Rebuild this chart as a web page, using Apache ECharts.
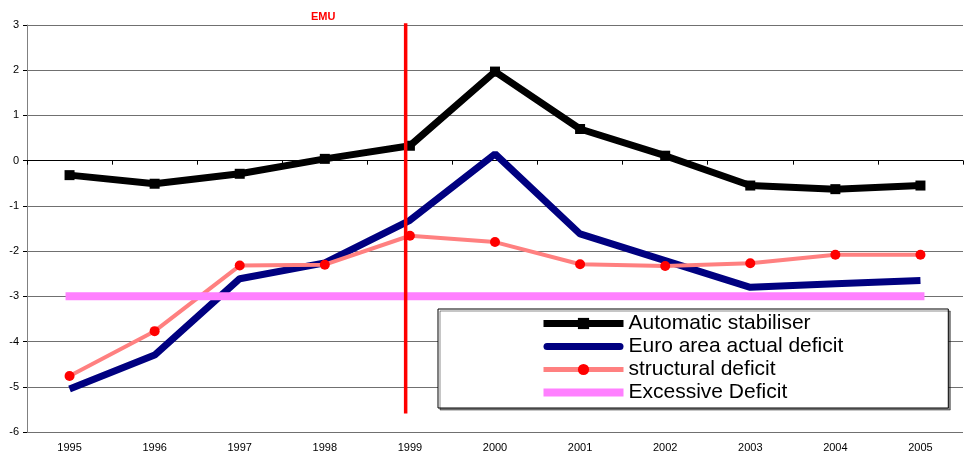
<!DOCTYPE html>
<html>
<head>
<meta charset="utf-8">
<script src="https://cdn.jsdelivr.net/npm/echarts@6/dist/echarts.min.js"></script>
<style>
html, body { margin: 0; padding: 0; background: #fff; }
#chart { width: 965px; height: 460px; }
</style>
</head>
<body>
<div id="chart"></div>
<script>
var years = ['1995', '1996', '1997', '1998', '1999', '2000', '2001', '2002', '2003', '2004', '2005'];
var automaticStabiliser = [-0.32, -0.51, -0.29, 0.04, 0.33, 1.97, 0.70, 0.11, -0.55, -0.63, -0.55];
var euroAreaDeficit = [-5.05, -4.30, -2.61, -2.26, -1.32, 0.15, -1.62, -2.21, -2.80, -2.72, -2.65];
var structuralDeficit = [-4.76, -3.77, -2.32, -2.30, -1.66, -1.80, -2.29, -2.33, -2.27, -2.08, -2.08];
var excessiveDeficit = [-3, -3, -3, -3, -3, -3, -3, -3, -3, -3, -3];
// EMU marker: position between category centres (index units) and its vertical extent
var emuLine = [[3.95, 3.13], [3.95, -5.59]];
var yTicks = { min: -6, max: 3, step: 1 };

var chart = echarts.init(document.getElementById('chart'));
var font = 'Liberation Sans, Arial, sans-serif';

// legend swatches for the plain lines (no marker)
var roundBar = 'path://M3.5,0 H76.5 A3.5,3.5 0 0 1 76.5,7 H3.5 A3.5,3.5 0 0 1 3.5,0 Z';
var flatBar = 'path://M0,0 H80 V8 H0 Z';

var option = {
    animation: false,
    backgroundColor: '#fff',
    title: {
        text: 'EMU',
        left: 306,
        top: 6,
        textStyle: { color: '#ff0000', fontSize: 11, fontWeight: 'bold', fontFamily: font }
    },
    grid: { left: 27, right: 2, top: 25, bottom: 28, containLabel: false },
    legend: {
        orient: 'vertical',
        left: 438,
        top: 309,
        padding: [4, 105, 5, 102],
        itemWidth: 80,
        itemHeight: 14,
        itemGap: 2,
        backgroundColor: '#fff',
        borderColor: '#000',
        borderWidth: 1,
        shadowColor: 'rgba(0,0,0,0.45)',
        shadowOffsetX: 2,
        shadowOffsetY: 2,
        shadowBlur: 0,
        textStyle: { fontSize: 21, lineHeight: 21, color: '#000', fontFamily: font },
        data: [
            { name: 'Automatic stabiliser', lineStyle: { width: 7 } },
            { name: 'Euro area actual deficit', icon: roundBar },
            { name: 'structural deficit', lineStyle: { width: 5 } },
            { name: 'Excessive Deficit', icon: flatBar }
        ]
    },
    xAxis: [
        {
            type: 'category',
            data: years,
            boundaryGap: true,
            position: 'bottom',
            axisLine: { show: false, onZero: false },
            axisTick: { show: false },
            axisLabel: { fontSize: 11, color: '#000', fontFamily: font, margin: 10 }
        },
        {
            type: 'category',
            data: years,
            boundaryGap: true,
            position: 'bottom',
            axisLine: { show: true, onZero: true, lineStyle: { color: '#000', width: 1 } },
            axisTick: { show: true, length: 4, lineStyle: { color: '#000' } },
            axisLabel: { show: false }
        },
        {
            type: 'value',
            min: -0.5,
            max: 10.5,
            show: false
        }
    ],
    yAxis: {
        type: 'value',
        min: yTicks.min,
        max: yTicks.max,
        interval: yTicks.step,
        axisLine: { show: true, onZero: false, lineStyle: { color: '#808080' } },
        axisTick: { show: true, length: 4, lineStyle: { color: '#000' } },
        axisLabel: { fontSize: 11, color: '#000', fontFamily: font, margin: 8 },
        splitLine: { show: true, lineStyle: { color: '#707070', width: 1 } }
    },
    series: [
        {
            name: 'Euro area actual deficit',
            type: 'line',
            data: euroAreaDeficit,
            symbol: 'none',
            lineStyle: { color: '#000080', width: 7 },
            itemStyle: { color: '#000080' },
            z: 3
        },
        {
            name: 'structural deficit',
            type: 'line',
            data: structuralDeficit,
            symbol: 'circle',
            symbolSize: 10,
            lineStyle: { color: '#ff8080', width: 4 },
            itemStyle: { color: '#ff0000' },
            z: 4
        },
        {
            name: 'Automatic stabiliser',
            type: 'line',
            data: automaticStabiliser,
            symbol: 'rect',
            symbolSize: 10,
            lineStyle: { color: '#000', width: 7 },
            itemStyle: { color: '#000' },
            z: 5
        },
        {
            name: 'Excessive Deficit',
            type: 'line',
            data: excessiveDeficit,
            symbol: 'none',
            lineStyle: { color: '#ff80ff', width: 8, cap: 'square' },
            itemStyle: { color: '#ff80ff' },
            z: 6
        },
        {
            name: 'EMU',
            type: 'line',
            xAxisIndex: 2,
            data: emuLine,
            symbol: 'none',
            silent: true,
            lineStyle: { color: '#ff0000', width: 3.5 },
            z: 7
        }
    ]
};
chart.setOption(option);
</script>
</body>
</html>
